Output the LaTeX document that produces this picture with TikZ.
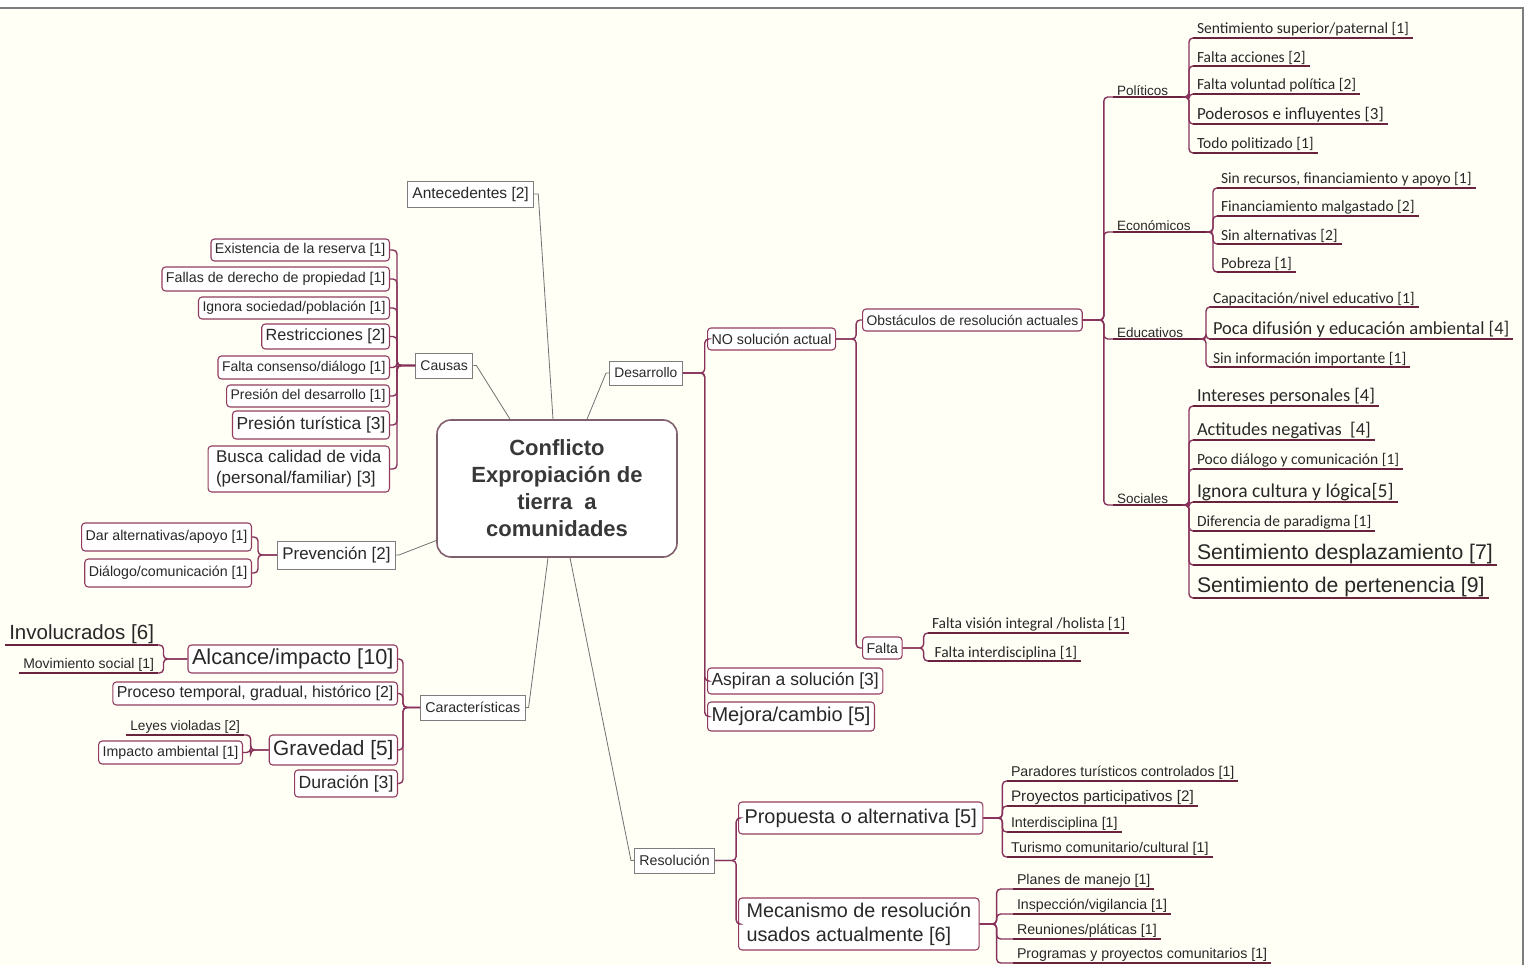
\documentclass[tikz,border=0pt]{standalone}
\usepackage{fontspec}
\setmainfont{Liberation Sans}
\newfontfamily\calfont{Carlito}
\usetikzlibrary{calc}
\definecolor{bgc}{RGB}{255,255,246}
\definecolor{txt}{RGB}{40,40,40}
\definecolor{boxc}{RGB}{145,60,95}
\definecolor{connc}{RGB}{135,50,90}
\definecolor{ulc}{RGB}{105,35,60}
\definecolor{grayc}{RGB}{125,125,125}
\definecolor{rootc}{RGB}{130,95,110}
\newcommand\fz[1]{\fontsize{#1}{#1}\selectfont}
\begin{document}
\begin{tikzpicture}[x=1pt,y=-1pt,
  every node/.style={text=txt},
  root/.style={draw=rootc, fill=white, line width=1.6pt, rounded corners=14pt,
    minimum width=240pt, minimum height=137pt, align=center, text=black!78,
    font=\bfseries\fontsize{22}{27}\selectfont},
  gbox/.style={draw=grayc, fill=white, line width=0.9pt, inner xsep=5pt, inner ysep=2pt},
  box/.style={draw=boxc, fill=white, line width=1.1pt, rounded corners=3.5pt, inner xsep=4pt, inner ysep=2pt},
  ul/.style={anchor=south west, inner xsep=4pt, inner ysep=1.5pt, outer sep=0pt,
    append after command={(\tikzlastnode.south west) edge[draw=ulc,line width=1.2pt] (\tikzlastnode.south east)}},
  cat/.style={ul, font=\fz{13.5}, align=left},
  conn/.style={draw=connc, line width=1.4pt, rounded corners=4pt},
  rconn/.style={draw=grayc!90!black, line width=0.8pt}
]
\useasboundingbox (0,0) rectangle (1528,965);
\fill[white] (0,0) rectangle (1528,965);
\fill[bgc] (0,8) rectangle (1523,965);
\draw[grayc, line width=1.2pt] (0,8) -- (1523,8) -- (1523,965);

% root
\node[root] (root) at (557,488.5) {Conflicto\\Expropiación de\\tierra\ \ a\\comunidades};

% first level
\node[gbox, anchor=west, minimum height=26pt, font=\fz{15.5}] (ante) at (407,194) {Antecedentes [2]};
\node[gbox, anchor=west, minimum height=25pt, font=\fz{14}] (causas) at (415,365.5) {Causas};
\node[gbox, anchor=west, minimum height=24pt, font=\fz{13.8}] (desa) at (609,373) {Desarrollo};
\node[gbox, anchor=west, minimum height=28pt, font=\fz{16.9}] (prev) at (277,555) {Prevención [2]};
\node[gbox, anchor=west, minimum height=25pt, font=\fz{14.2}] (cara) at (420,707.5) {Características};
\node[gbox, anchor=west, minimum height=25pt, font=\fz{14.2}] (reso) at (634,860.5) {Resolución};

\draw[rconn] (ante.east) -- ++(4,0) -- ($(root.north)+(-4,0)$);
\draw[rconn] (causas.east) -- ++(3,0) -- ($(root.north)+(-47,0)$);
\draw[rconn] (desa.west) -- ++(-3,0) -- ($(root.north)+(30,0)$);
\draw[rconn] (prev.east) -- ++(3,0) -- ($(root.west)+(0,52)$);
\draw[rconn] (cara.east) -- ++(3,0) -- ($(root.south)+(-9,0)$);
\draw[rconn] (reso.west) -- ++(-3,0) -- ($(root.south)+(13,0)$);

% Causas children
\node[box, anchor=east, minimum height=22pt, font=\fz{14.2}] (c1) at (390,250) {Existencia de la reserva [1]};
\node[box, anchor=east, minimum height=24pt, font=\fz{14.2}] (c2) at (390,279) {Fallas de derecho de propiedad [1]};
\node[box, anchor=east, minimum height=22pt, font=\fz{14}] (c3) at (390,308) {Ignora sociedad/población [1]};
\node[box, anchor=east, minimum height=25pt, font=\fz{16.2}] (c4) at (390,336.5) {Restricciones [2]};
\node[box, anchor=east, minimum height=23pt, font=\fz{14}] (c5) at (390,367.5) {Falta consenso/diálogo [1]};
\node[box, anchor=east, minimum height=22pt, font=\fz{14}] (c6) at (390,396) {Presión del desarrollo [1]};
\node[box, anchor=east, minimum height=28pt, font=\fz{17.4}] (c7) at (390,425) {Presión turística [3]};
\node[box, anchor=east, minimum height=46pt, align=left, inner xsep=8pt, font=\fontsize{17}{21}\selectfont] (c8) at (390,469) {Busca calidad de vida\\(personal/familiar) [3]};
\foreach \n in {c1,c2,c3,c4,c5,c6,c7,c8}
  \draw[conn] (causas.west) -- ++(-18,0) |- (\n.east);

% Prevencion children
\node[box, anchor=east, minimum height=28pt, font=\fz{14.2}] (p1) at (252,537) {Dar alternativas/apoyo [1]};
\node[box, anchor=east, minimum height=28pt, font=\fz{14.2}] (p2) at (252,573) {Diálogo/comunicación [1]};
\foreach \n in {p1,p2}
  \draw[conn] (prev.west) -- ++(-19,0) |- (\n.east);

% Caracteristicas children
\node[box, anchor=east, minimum height=28pt, font=\fz{21.7}] (k1) at (398,659) {Alcance/impacto [10]};
\node[box, anchor=east, minimum height=23pt, font=\fz{15.9}] (k2) at (398,693.5) {Proceso temporal, gradual, histórico [2]};
\node[box, anchor=east, minimum height=30pt, font=\fz{20.8}] (k3) at (398,750) {Gravedad [5]};
\node[box, anchor=east, minimum height=27pt, font=\fz{17.6}] (k4) at (398,783.5) {Duración [3]};
\foreach \n in {k1,k2,k3,k4}
  \draw[conn] (cara.west) -- ++(-17,0) |- (\n.east);

\node[ul, anchor=south east, font=\fz{20.5}] (inv) at (158,645) {Involucrados [6]};
\node[ul, anchor=south east, font=\fz{14}] (mov) at (158,673) {Movimiento social [1]};
\foreach \n in {inv,mov}
  \draw[conn] (k1.west) -- ++(-24,0) |- (\n.south east);

\node[ul, anchor=south east, font=\fz{13.7}] (ley) at (244,735) {Leyes violadas [2]};
\node[box, anchor=east, minimum height=23pt, font=\fz{14.2}] (imp) at (243,752.5) {Impacto ambiental [1]};
\draw[conn] (k3.west) -- ++(-18,0) |- (ley.south east);
\draw[conn] (k3.west) -- ++(-18,0) |- (imp.east);

% Desarrollo children
\node[box, anchor=west, minimum height=22pt, font=\fz{14.3}] (n1) at (707,339) {NO solución actual};
\node[box, anchor=west, minimum height=26pt, font=\fz{17.5}] (n2) at (707,681) {Aspiran a solución [3]};
\node[box, anchor=west, minimum height=29pt, font=\fz{20}] (n3) at (707,716.5) {Mejora/cambio [5]};
\foreach \n in {n1,n2,n3}
  \draw[conn] (desa.east) -- ++(22,0) |- (\n.west);

\node[box, anchor=west, minimum height=22pt, font=\fz{13.9}] (o1) at (862,320) {Obstáculos de resolución actuales};
\node[box, anchor=west, minimum height=22pt, font=\fz{14.2}] (f1) at (862,648) {Falta};
\foreach \n in {o1,f1}
  \draw[conn] (n1.east) -- ++(20,0) |- (\n.west);

% categories
\node[cat, text width=67pt] (pol) at (1113,97) {Políticos};
\node[cat, text width=91pt] (eco) at (1113,232) {Económicos};
\node[cat, text width=84pt] (edu) at (1113,339) {Educativos};
\node[cat, text width=67pt] (soc) at (1113,505) {Sociales};
\foreach \n in {pol,eco,edu,soc}
  \draw[conn] (o1.east) -- ++(21,0) |- (\n.south west);

% Politicos
\begin{scope}[every node/.append style={font=\calfont\fz{15.5}}]
\node[ul] (pl1) at (1193,38) {Sentimiento superior/paternal [1]};
\node[ul] (pl2) at (1193,66) {Falta acciones [2]};
\node[ul] (pl3) at (1193,94) {Falta voluntad política [2]};
\node[ul, font=\calfont\fz{17}] (pl4) at (1193,124) {Poderosos e influyentes [3]};
\node[ul] (pl5) at (1193,153) {Todo politizado [1]};
\foreach \n in {pl1,pl2,pl3,pl4,pl5}
  \draw[conn] (pol.south east) -- ++(1,0) |- (\n.south west);

\node[ul] (ec1) at (1217,188) {Sin recursos, financiamiento y apoyo [1]};
\node[ul] (ec2) at (1217,216) {Financiamiento malgastado [2]};
\node[ul] (ec3) at (1217,244) {Sin alternativas [2]};
\node[ul] (ec4) at (1217,272) {Pobreza [1]};
\foreach \n in {ec1,ec2,ec3,ec4}
  \draw[conn] (eco.south east) -- ++(1,0) |- (\n.south west);

\node[ul] (ed1) at (1209,307) {Capacitación/nivel educativo [1]};
\node[ul, font=\calfont\fz{18.4}] (ed2) at (1209,339) {Poca difusión y educación ambiental [4]};
\node[ul] (ed3) at (1209,367) {Sin información importante [1]};
\foreach \n in {ed1,ed2,ed3}
  \draw[conn] (edu.south east) -- ++(1,0) |- (\n.south west);

\node[ul, font=\calfont\fz{18.4}] (s1) at (1193,406) {Intereses personales [4]};
\node[ul, font=\calfont\fz{18.4}] (s2) at (1193,440) {Actitudes negativas~ [4]};
\node[ul] (s3) at (1193,469) {Poco diálogo y comunicación [1]};
\node[ul, font=\calfont\fz{19.6}] (s4) at (1193,502) {Ignora cultura y lógica[5]};
\node[ul] (s5) at (1193,531) {Diferencia de paradigma [1]};
\node[ul, font=\fz{21.2}] (s6) at (1193,565) {Sentimiento desplazamiento [7]};
\node[ul, font=\fz{21.2}] (s7) at (1193,598) {Sentimiento de pertenencia [9]};
\foreach \n in {s1,s2,s3,s4,s5,s6,s7}
  \draw[conn] (soc.south east) -- ++(1,0) |- (\n.south west);

\node[ul] (fa1) at (928,633) {Falta visión integral /holista [1]};
\node[ul] (fa2) at (928,661) {\,Falta interdisciplina [1]};
\foreach \n in {fa1,fa2}
  \draw[conn] (f1.east) -- ++(21,0) |- (\n.south west);
\end{scope}

% Resolucion
\node[box, anchor=west, minimum height=32pt, inner xsep=6pt, font=\fz{19.9}] (r1) at (738,818) {Propuesta o alternativa [5]};
\node[box, anchor=west, minimum height=52pt, inner xsep=8pt, align=left, font=\fontsize{19.8}{24}\selectfont] (r2) at (738,924) {Mecanismo de resolución\\usados actualmente [6]};
\foreach \n in {r1,r2}
  \draw[conn] (reso.east) -- ++(21,0) |- (\n.west);

\begin{scope}[every node/.append style={font=\fz{14.2}}]
\node[ul] (pr1) at (1007,781) {Paradores turísticos controlados [1]};
\node[ul, font=\fz{15.3}] (pr2) at (1007,806) {Proyectos participativos [2]};
\node[ul] (pr3) at (1007,832) {Interdisciplina [1]};
\node[ul] (pr4) at (1007,857) {Turismo comunitario/cultural [1]};
\foreach \n in {pr1,pr2,pr3,pr4}
  \draw[conn] (r1.east) -- ++(19,0) |- (\n.south west);

\node[ul] (m1) at (1013,889) {Planes de manejo [1]};
\node[ul] (m2) at (1013,914) {Inspección/vigilancia [1]};
\node[ul] (m3) at (1013,939) {Reuniones/pláticas [1]};
\node[ul] (m4) at (1013,963) {Programas y proyectos comunitarios [1]};
\foreach \n in {m1,m2,m3,m4}
  \draw[conn] (r2.east) -- ++(17,0) |- (\n.south west);
\end{scope}
\end{tikzpicture}
\end{document}
